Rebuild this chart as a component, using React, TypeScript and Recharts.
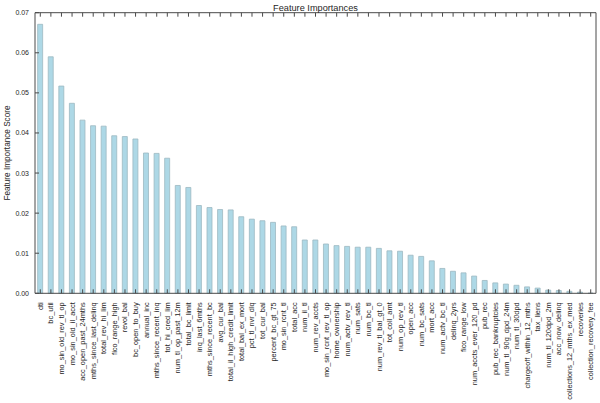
import { BarChart, Bar, XAxis, YAxis } from 'recharts';

const features = [
  'dti', 'bc_util', 'mo_sin_old_rev_tl_op', 'mo_sin_old_il_acct', 'acc_open_past_24mths',
  'mths_since_last_delinq', 'total_rev_hi_lim', 'fico_range_high', 'revol_bal', 'bc_open_to_buy',
  'annual_inc', 'mths_since_recent_inq', 'tot_hi_cred_lim', 'num_tl_op_past_12m', 'total_bc_limit',
  'inq_last_6mths', 'mths_since_recent_bc', 'avg_cur_bal', 'total_il_high_credit_limit', 'total_bal_ex_mort',
  'pct_tl_nvr_dlq', 'tot_cur_bal', 'percent_bc_gt_75', 'mo_sin_rcnt_tl', 'total_acc',
  'num_il_tl', 'num_rev_accts', 'mo_sin_rcnt_rev_tl_op', 'home_ownership', 'num_actv_rev_tl',
  'num_sats', 'num_bc_tl', 'num_rev_tl_bal_gt_0', 'tot_coll_amt', 'num_op_rev_tl',
  'open_acc', 'num_bc_sats', 'mort_acc', 'num_actv_bc_tl', 'delinq_2yrs',
  'fico_range_low', 'num_accts_ever_120_pd', 'pub_rec', 'pub_rec_bankruptcies', 'num_tl_90g_dpd_24m',
  'num_tl_30dpd', 'chargeoff_within_12_mths', 'tax_liens', 'num_tl_120dpd_2m', 'acc_now_delinq',
  'collections_12_mths_ex_med', 'recoveries', 'collection_recovery_fee',
];

const importances = [
  0.0671, 0.059, 0.0517, 0.0474, 0.0432,
  0.0418, 0.0417, 0.0393, 0.0391, 0.0385,
  0.035, 0.0349, 0.0337, 0.0269, 0.0264,
  0.0219, 0.0214, 0.0209, 0.0208, 0.0191,
  0.0185, 0.0181, 0.0177, 0.0168, 0.0166,
  0.0133, 0.0133, 0.0123, 0.0119, 0.0117,
  0.0115, 0.0115, 0.0112, 0.0106, 0.0105,
  0.0095, 0.0092, 0.0081, 0.0062, 0.0055,
  0.0051, 0.0043, 0.0032, 0.0026, 0.0023,
  0.002, 0.0016, 0.0013, 0.0008, 0.0007,
  0.0005, 0.0003, 0.00005,
];

const yTicks = [0, 0.01, 0.02, 0.03, 0.04, 0.05, 0.06, 0.07];

const data = features.map((name, i) => ({ name, score: importances[i] }));

const FONT = '"Liberation Sans", Arial, sans-serif';
const INK = '#262626';
const FRAME = '#4a4a4a';

function BottomTick({ x, y, payload }: any) {
  return (
    <g>
      <line x1={x} y1={y} x2={x} y2={y - 4} stroke={FRAME} strokeWidth={1} />
      <text
        x={x}
        y={y + 9}
        transform={`rotate(-90, ${x}, ${y + 9})`}
        textAnchor="end"
        dominantBaseline="central"
        fontSize={7.4}
        fontFamily={FONT}
        fill={INK}
      >
        {payload.value}
      </text>
    </g>
  );
}

function TopTick({ x, y }: any) {
  return <line x1={x} y1={y} x2={x} y2={y + 4} stroke={FRAME} strokeWidth={1} />;
}

function LeftTick({ x, y, payload }: any) {
  return (
    <g>
      <line x1={x} y1={y} x2={x + 4} y2={y} stroke={FRAME} strokeWidth={1} />
      <text
        x={x - 6}
        y={y}
        textAnchor="end"
        dominantBaseline="central"
        fontSize={7}
        fontFamily={FONT}
        fill={INK}
      >
        {payload.value.toFixed(2)}
      </text>
    </g>
  );
}

function RightTick({ x, y }: any) {
  return <line x1={x} y1={y} x2={x - 4} y2={y} stroke={FRAME} strokeWidth={1} />;
}

export default function App() {
  return (
    <div style={{ position: 'absolute', left: 0, top: 0, background: '#fff' }}>
      <BarChart
        width={600}
        height={403}
        data={data}
        margin={{ top: 11.7, right: 3, left: 0, bottom: 0 }}
        barCategoryGap="25%"
      >
        <Bar
          dataKey="score"
          fill="#add8e6"
          stroke="#9db9c2"
          strokeWidth={0.8}
          isAnimationActive={false}
        />
        <XAxis
          dataKey="name"
          height={109.7}
          interval={0}
          tickSize={0}
          tickMargin={0}
          tick={<BottomTick />}
          stroke={FRAME}
          axisLine
          tickLine={false}
        />
        <XAxis
          xAxisId="top"
          dataKey="name"
          orientation="top"
          height={1}
          interval={0}
          tickSize={0}
          tickMargin={0}
          tick={<TopTick />}
          stroke={FRAME}
          axisLine
          tickLine={false}
          label={{
            content: () => (
              <text x={315.5} y={10.5} textAnchor="middle" fontSize={9.2} fontFamily={FONT} fill={INK}>
                Feature Importances
              </text>
            ),
          }}
        />
        <YAxis
          width={35}
          domain={[0, 0.07]}
          ticks={yTicks}
          interval={0}
          tickSize={0}
          tickMargin={0}
          tick={<LeftTick />}
          stroke={FRAME}
          axisLine
          tickLine={false}
          label={{
            content: () => (
              <text
                x={7.5}
                y={153}
                transform="rotate(-90, 7.5, 153)"
                textAnchor="middle"
                dominantBaseline="central"
                fontSize={8.2}
                fontFamily={FONT}
                fill={INK}
              >
                Feature Importance Score
              </text>
            ),
          }}
        />
        <YAxis
          yAxisId="right"
          orientation="right"
          width={1}
          domain={[0, 0.07]}
          ticks={yTicks}
          interval={0}
          tickSize={0}
          tickMargin={0}
          tick={<RightTick />}
          stroke={FRAME}
          axisLine
          tickLine={false}
        />
      </BarChart>
    </div>
  );
}
